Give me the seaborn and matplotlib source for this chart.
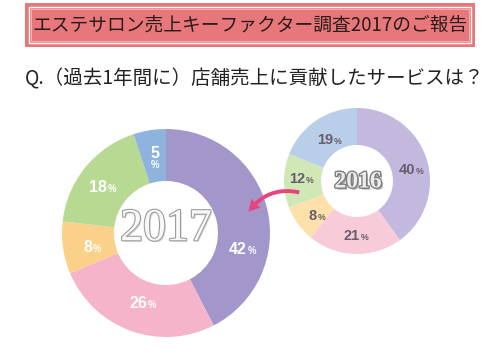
import matplotlib
matplotlib.use("Agg")
import matplotlib.pyplot as plt
import matplotlib.patheffects as pe
from matplotlib.patches import Rectangle, FancyArrowPatch
import seaborn as sns

# data
services = ["A", "B", "C", "D", "E"]
share_2017 = [42, 26, 8, 18, 5]
share_2016 = [40, 21, 8, 12, 19]
title = "エステサロン売上キーファクター調査2017のご報告"
question = "Q.（過去1年間に）店舗売上に貢献したサービスは？"

colors_2017 = sns.color_palette(["#a396cb", "#f5b4c9", "#fbd089", "#b7d992", "#8eb4dd"])
colors_2016 = sns.color_palette(["#c3b9df", "#f8cbd9", "#fde0aa", "#d0e7b6", "#b9cfe9"])

# label spots (pixel coords of the picture)
lab_2017 = [(242, 250), (142, 303), (87, 247), (102, 188), (155, 158)]
lab_2016 = [(410, 170), (355, 236), (312, 216), (300, 179), (328, 140)]

sns.set_theme(style="white")
plt.rcParams["font.family"] = ["Noto Sans CJK JP", "DejaVu Sans"]

W, H = 500, 364
fig = plt.figure(figsize=(5, 3.64), dpi=100)
ax = fig.add_axes([0, 0, 1, 1])


def py(y):
    return H - y


# title box
ax.add_patch(Rectangle((25, py(47)), 450, 44, facecolor="#e8777b", edgecolor="none"))
ax.add_patch(Rectangle((29, py(43)), 442, 36, facecolor="none", edgecolor="white", lw=1.0))
ax.add_patch(Rectangle((31, py(41)), 438, 32, facecolor="none", edgecolor="#f3b9ba", lw=0.6))
ax.text(250, py(25), title, ha="center", va="center", fontsize=13.5, color="#2a1c1a")

ax.text(255, py(79), question, ha="center", va="center", fontsize=14, color="#222222")

# donuts
ax.pie(share_2016, colors=colors_2016, startangle=90, counterclock=False,
       center=(357, py(181)), radius=73,
       wedgeprops=dict(width=37, edgecolor="none", linewidth=0))
ax.pie(share_2017, colors=colors_2017, startangle=90, counterclock=False,
       center=(166, py(233)), radius=104,
       wedgeprops=dict(width=52, edgecolor="none", linewidth=0))


def pct(x, y, v, color, size, stacked=False):
    if stacked:
        ax.text(x, py(y) + 5, str(v), ha="center", va="center", fontsize=size,
                fontweight="bold", color=color, family="Liberation Sans")
        ax.text(x, py(y) - 7, "%", ha="center", va="center", fontsize=size * 0.6,
                fontweight="bold", color=color, family="Liberation Sans")
        return
    ax.text(x + 5, py(y), str(v), ha="right", va="center", fontsize=size,
            fontweight="bold", color=color, family="Liberation Sans")
    ax.text(x + 5.5, py(y) - 1.5, "%", ha="left", va="center", fontsize=size * 0.6,
            fontweight="bold", color=color, family="Liberation Sans")


for (x, y), v in zip(lab_2017, share_2017):
    pct(x, y, v, "white", 11.5, stacked=(v == 5))
for (x, y), v in zip(lab_2016, share_2016):
    pct(x, y, v, "#675d6c", 10.5)

# year labels
ax.text(166, py(229), "2017", ha="center", va="center", fontsize=33,
        family="Liberation Serif", color="#f8f8f8",
        path_effects=[pe.SimplePatchShadow(offset=(1.2, -1.2), shadow_rgbFace="#c4c4c4", alpha=0.6),
                      pe.withStroke(linewidth=1.6, foreground="#9c9c9c")])
ax.text(358, py(182), "2016", ha="center", va="center", fontsize=17,
        family="Liberation Serif", fontweight="bold", color="#ececec",
        path_effects=[pe.SimplePatchShadow(offset=(1.5, -1.5), shadow_rgbFace="#888888", alpha=0.7),
                      pe.withStroke(linewidth=2.0, foreground="#7d7d7d")])

# arrow
arrow = FancyArrowPatch((302, py(193)), (247, py(214)),
                        connectionstyle="arc3,rad=0.35",
                        arrowstyle="simple,head_width=9,head_length=8,tail_width=2.8",
                        color="#e8437f", mutation_scale=1, lw=0)
ax.add_patch(arrow)

ax.set_xlim(0, W)
ax.set_ylim(0, H)
ax.set_aspect("auto")
ax.axis("off")

fig.savefig("out.png", dpi=100)
